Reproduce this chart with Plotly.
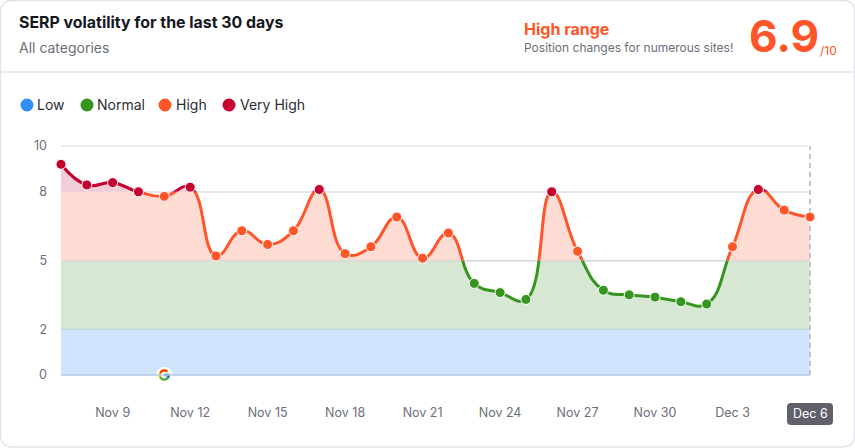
import base64
import plotly.graph_objects as go

W, H = 855, 448

days = ["Nov 7", "Nov 8", "Nov 9", "Nov 10", "Nov 11", "Nov 12", "Nov 13", "Nov 14", "Nov 15", "Nov 16",
        "Nov 17", "Nov 18", "Nov 19", "Nov 20", "Nov 21", "Nov 22", "Nov 23", "Nov 24", "Nov 25", "Nov 26",
        "Nov 27", "Nov 28", "Nov 29", "Nov 30", "Dec 1", "Dec 2", "Dec 3", "Dec 4", "Dec 5", "Dec 6"]
volatility = [9.2, 8.3, 8.4, 8.0, 7.8, 8.2, 5.2, 6.3, 5.7, 6.3,
              8.1, 5.3, 5.6, 6.9, 5.1, 6.2, 4.0, 3.6, 3.3, 8.0,
              5.4, 3.7, 3.5, 3.4, 3.2, 3.1, 5.6, 8.1, 7.2, 6.9]
x_ticks = ["Nov 9", "Nov 12", "Nov 15", "Nov 18", "Nov 21", "Nov 24", "Nov 27", "Nov 30", "Dec 3"]
y_ticks = [0, 2, 5, 8, 10]
update_day = "Nov 11"

band_names = ["Low", "Normal", "High", "Very High"]
band_low = [0, 2, 5, 8]
band_high = [2, 5, 8, 10]
band_line = ["#2f8ff6", "#35951f", "#ff5528", "#c6002f"]
band_fill = ["#d0e4fd", "#d6e8d3", "#ffdcd3", "#f2ccd6"]

GRAY = "#6c6e79"
FONT = "Inter"

# plot area in page pixels
left, right, top, bottom = 61, 810, 146, 375
step = (right - left) / (len(days) - 1)


def px(x): return x / W
def py(y): return 1 - y / H
def val_y(v): return bottom - (bottom - top) * v / 10


def label(text, x, y, size, color=GRAY, anchor="left", bold=False):
    if bold: text = "<b>" + text + "</b>"
    return dict(text=text, x=px(x - 2), y=py(y), xref="paper", yref="paper", showarrow=False,
                xanchor=anchor, yanchor="middle", font=dict(family=FONT, size=size, color=color))


def rounded(x0, y0, x1, y1, r):
    return (f"M{px(x0 + r)},{py(y0)} L{px(x1 - r)},{py(y0)} Q{px(x1)},{py(y0)} {px(x1)},{py(y0 + r)} "
            f"L{px(x1)},{py(y1 - r)} Q{px(x1)},{py(y1)} {px(x1 - r)},{py(y1)} "
            f"L{px(x0 + r)},{py(y1)} Q{px(x0)},{py(y1)} {px(x0)},{py(y1 - r)} "
            f"L{px(x0)},{py(y0 + r)} Q{px(x0)},{py(y0)} {px(x0 + r)},{py(y0)} Z")


def hline(y, color, width=1.5):
    return dict(type="line", xref="paper", yref="paper", x0=px(left), x1=px(right), y0=py(y), y1=py(y),
                line=dict(color=color, width=width))


fig = go.Figure()

# empty trace so the tick/grid axis gets drawn
fig.add_trace(go.Scatter(x=days, y=volatility, mode="lines", line=dict(width=0), hoverinfo="skip", showlegend=False))

# same spline drawn once per band, each on an axis cut to that band so it gets clipped there
for i in range(4):
    fig.add_trace(go.Scatter(x=days, y=volatility, yaxis=f"y{i + 2}", mode="lines",
                             line=dict(color=band_line[i], width=3, shape="spline", smoothing=1.3),
                             fill="tozeroy", fillcolor=band_fill[i],
                             name=band_names[i], hoverinfo="skip", showlegend=False))

marker_colors = []
for v in volatility:
    for i in range(4):
        if band_low[i] <= v and (v < band_high[i] or i == 3):
            marker_colors.append(band_line[i])

# dashed line for the latest day, under the points. x2 is one day wider on each side so it isn't clipped
fig.add_trace(go.Scatter(x=[days[-1], days[-1]], y=[y_ticks[0], y_ticks[-1]], xaxis="x2", yaxis="y6", mode="lines",
                         line=dict(color="#c5c6cb", width=2, dash="5px,4px"), hoverinfo="skip", showlegend=False))

fig.add_trace(go.Scatter(x=days, y=volatility, xaxis="x2", yaxis="y6", mode="markers", cliponaxis=False,
                         marker=dict(color=marker_colors, size=10, line=dict(color="white", width=1)),
                         showlegend=False))

axes = dict(
    xaxis=dict(domain=[px(left), px(right)], type="category", categoryorder="array", categoryarray=days,
               range=[0, len(days) - 1], anchor="y", tickmode="array", tickvals=x_ticks, ticktext=x_ticks,
               showgrid=False, zeroline=False, showline=False, ticks="", ticklabelstandoff=28, automargin=False,
               tickfont=dict(family=FONT, size=12.5, color=GRAY)),
    xaxis2=dict(domain=[px(left - step), px(right + step)], type="category", categoryorder="array", categoryarray=days,
                range=[-1, len(days)], anchor="y6", visible=False),
    yaxis=dict(domain=[py(bottom), py(top)], range=[0, 10], anchor="x", tickmode="array", tickvals=y_ticks,
               showgrid=True, gridcolor="#e6e6ee", gridwidth=1.5, zeroline=False, showline=False, ticks="",
               ticklabelstandoff=13, automargin=False, tickfont=dict(family=FONT, size=12.5, color=GRAY)),
    yaxis6=dict(domain=[py(bottom), py(top)], range=[0, 10], anchor="x2", visible=False),
)
for i in range(4):
    axes[f"yaxis{i + 2}"] = dict(domain=[py(val_y(band_low[i])), py(val_y(band_high[i]))],
                                 range=[band_low[i], band_high[i]], anchor="x", visible=False)

annotations = [
    label("SERP volatility for the last 30 days", 19, 22, 15.9, "#16171c", bold=True),
    label("All categories", 19, 48, 14),
    label("High range", 524, 29, 16, "#ff5528", bold=True),
    label("Position changes for numerous sites!", 524, 48, 12),
    label("6.9", 749, 36, 44, "#ff5528", bold=True),
    label("/10", 820, 50, 12, "#ff5528"),
    dict(text="Dec 6", x=days[-1], y=py(413.5), xref="x", yref="paper", showarrow=False, yanchor="middle",
         font=dict(family=FONT, size=12.5, color="white")),
]
shapes = [
    dict(type="path", xref="paper", yref="paper", path=rounded(0.5, 0.5, 854.5, 447, 12),
         line=dict(color="#e3e3ea", width=1.5), layer="below"),
    dict(type="line", xref="paper", yref="paper", x0=0, x1=1, y0=py(72), y1=py(72),
         line=dict(color="#e3e3ea", width=1.5)),
    hline(val_y(10), "#e6e6ee"),
    hline(val_y(5), "rgba(100,100,140,0.07)"),
    hline(val_y(2), "rgba(100,120,150,0.15)"),
    hline(bottom, "#b4c9e6"),
    dict(type="path", xref="paper", yref="paper", path=rounded(787, 403, 833, 425, 4), fillcolor="#5f6069",
         line=dict(width=0), layer="below"),
]

legend_dot = [27, 87, 165, 229]
legend_text = [37, 97, 176, 240]
for i in range(4):
    shapes.append(dict(type="circle", xref="paper", yref="paper", fillcolor=band_line[i], line=dict(width=0),
                       x0=px(legend_dot[i] - 6.5), x1=px(legend_dot[i] + 6.5), y0=py(111.5), y1=py(98.5)))
    annotations.append(label(band_names[i], legend_text[i], 104.5, 14, "#2c2d34"))

# google update mark
google_svg = ('<svg xmlns="http://www.w3.org/2000/svg" viewBox="0 0 48 48">'
              '<circle cx="24" cy="24" r="24" fill="#fff"/>'
              '<g transform="translate(3.6 3.6) scale(.85)">'
              '<path fill="#FFC107" d="M43.6 20.5H42V20H24v8h11.3c-1.6 4.7-6.1 8-11.3 8-6.6 0-12-5.4-12-12s5.4-12 12-12c3.1 0 5.8 1.2 8 3l5.7-5.7C34 6.1 29.3 4 24 4 13 4 4 13 4 24s9 20 20 20 20-9 20-20c0-1.3-.1-2.4-.4-3.5z"/>'
              '<path fill="#FF3D00" d="M6.3 14.7l6.6 4.8C14.7 15.1 19 12 24 12c3.1 0 5.8 1.2 8 3l5.7-5.7C34 6.1 29.3 4 24 4 16.3 4 9.7 8.3 6.3 14.7z"/>'
              '<path fill="#4CAF50" d="M24 44c5.2 0 9.9-2 13.4-5.2l-6.2-5.2C29.2 35.1 26.7 36 24 36c-5.2 0-9.6-3.3-11.3-8l-6.5 5C9.5 39.6 16.2 44 24 44z"/>'
              '<path fill="#1976D2" d="M43.6 20.5H42V20H24v8h11.3c-.8 2.2-2.2 4.2-4.1 5.6l6.2 5.2C37 39.2 44 34 44 24c0-1.3-.1-2.4-.4-3.5z"/>'
              '</g></svg>')
google_uri = "data:image/svg+xml;base64," + base64.b64encode(google_svg.encode()).decode()

fig.update_layout(width=W, height=H, margin=dict(l=0, r=0, t=0, b=0, autoexpand=False), paper_bgcolor="white", plot_bgcolor="rgba(0,0,0,0)",
                  showlegend=False, hovermode="closest", annotations=annotations, shapes=shapes,
                  images=[dict(source=google_uri, xref="x", yref="paper", x=update_day, y=py(375), sizex=16 / W * 29 * W / (right - left),
                               sizey=16 / H, xanchor="center", yanchor="middle", layer="above", sizing="contain")],
                  **axes)

fig.write_html("out.html", config=dict(displayModeBar=False), post_script="document.body.style.margin='0';")
